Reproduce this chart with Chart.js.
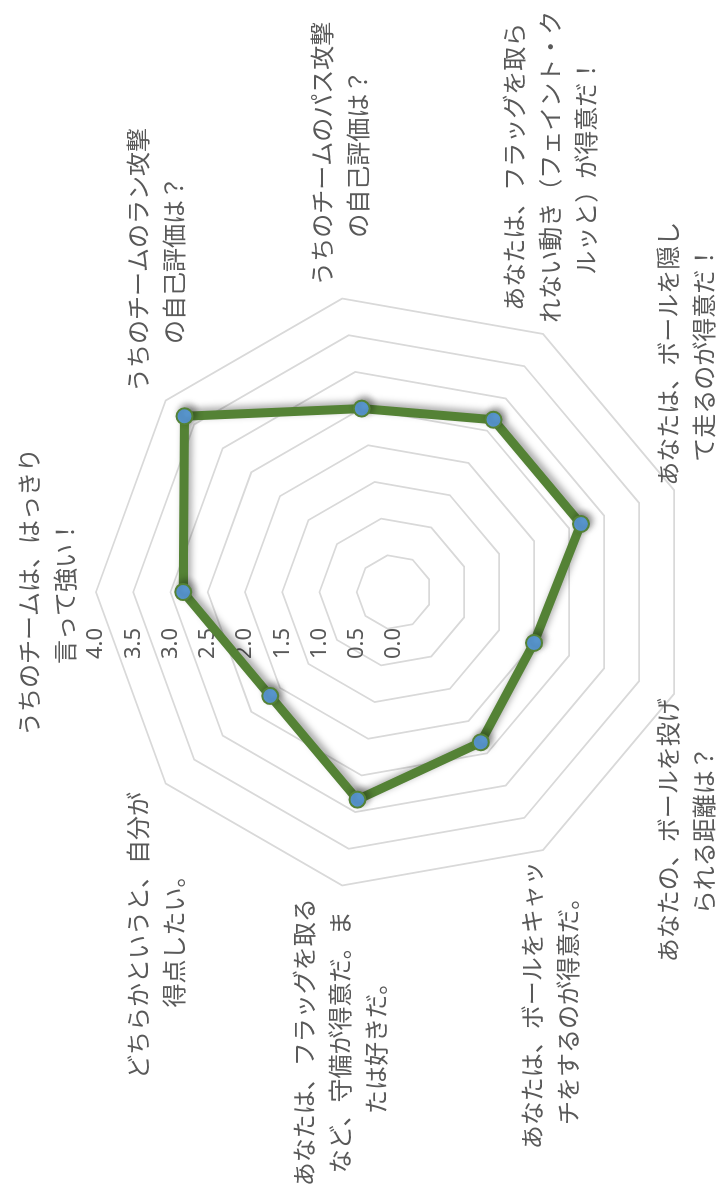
<!DOCTYPE html>
<html>
<head>
<meta charset="utf-8">
<script src="https://cdn.jsdelivr.net/npm/chart.js@4.4.1/dist/chart.umd.min.js"></script>
<style>
  html, body { margin: 0; padding: 0; background: #fff; }
  #wrap { position: relative; width: 717px; height: 1195px; overflow: hidden; }
  /* the chart is drawn landscape and turned a quarter to the left */
  #turn { position: absolute; left: 0; top: 0; width: 1195px; height: 717px;
          transform-origin: 0 0; transform: translate(0, 1195px) rotate(-90deg); }
</style>
</head>
<body>
<div id="wrap"><div id="turn"><canvas id="radarChart" width="1195" height="717"></canvas></div></div>
<script>
const questions = [
    ['うちのチームは、はっきり', '言って強い！'],
    ['うちのチームのラン攻撃', 'の自己評価は？'],
    ['うちのチームのパス攻撃', 'の自己評価は？'],
    ['あなたは、フラッグを取ら', 'れない動き（フェイント・ク', 'ルッと）が得意だ！'],
    ['あなたは、ボールを隠し', 'て走るのが得意だ！'],
    ['あなたの、ボールを投げ', 'られる距離は？'],
    ['あなたは、ボールをキャッ', 'チをするのが得意だ。'],
    ['あなたは、フラッグを取る', 'など、守備が得意だ。ま', 'たは好きだ。'],
    ['どちらかというと、自分が', '得点したい。']
];
const scores = [2.83, 3.67, 2.5, 2.67, 2.67, 2.0, 2.33, 2.83, 2.17];
const scaleMin = 0;
const scaleMax = 4;
const scaleStep = 0.5;

const textColor = '#595959';

// tick labels sit beside the axis, not on it
const sideTicks = {
    id: 'sideTicks',
    beforeDatasetsDraw(chart) {
        const r = chart.scales.r;
        const ctx = chart.ctx;
        ctx.save();
        ctx.font = '22px "Noto Sans"';
        ctx.fillStyle = textColor;
        ctx.textAlign = 'right';
        ctx.textBaseline = 'middle';
        r.ticks.forEach(t => {
            const d = r.getDistanceFromCenterForValue(t.value);
            ctx.fillText(t.value.toFixed(1), r.xCenter - 36, r.yCenter - d);
        });
        ctx.restore();
    }
};

const lineShadow = {
    id: 'lineShadow',
    beforeDatasetsDraw(chart) {
        const ctx = chart.ctx;
        ctx.save();
        ctx.shadowColor = 'rgba(0,0,0,0.35)';
        ctx.shadowBlur = 7;
        ctx.shadowOffsetX = 3;
        ctx.shadowOffsetY = 3;
    },
    afterDatasetsDraw(chart) {
        chart.ctx.restore();
    }
};

// question labels, lines centred, block set beside each spoke
const questionLabels = {
    id: 'questionLabels',
    afterDraw(chart) {
        const r = chart.scales.r;
        const ctx = chart.ctx;
        const lineH = 36;
        const n = chart.data.labels.length;
        ctx.save();
        ctx.font = '24px "Noto Sans CJK JP"';
        ctx.fillStyle = textColor;
        ctx.textAlign = 'center';
        ctx.textBaseline = 'middle';
        chart.data.labels.forEach((lines, i) => {
            const p = r.getPointPosition(i, r.drawingArea + 13);
            const deg = Math.round(i * 360 / n);
            const w = Math.max(...lines.map(s => ctx.measureText(s).width));
            const h = lines.length * lineH;
            let cx = p.x;
            let top = p.y - h / 2;
            if (deg === 0) top = p.y - h;
            else if (deg === 180) top = p.y;
            else if (deg < 180) cx = p.x + w / 2;
            else cx = p.x - w / 2;
            lines.forEach((s, k) => ctx.fillText(s, cx, top + lineH * (k + 0.5)));
        });
        ctx.restore();
    }
};

const ctx = document.getElementById('radarChart').getContext('2d');
new Chart(ctx, {
    type: 'radar',
    data: {
        labels: questions,
        datasets: [{
            label: '自己評価',
            data: scores,
            borderColor: '#548235',
            borderWidth: 9,
            fill: false,
            pointRadius: 8,
            pointBackgroundColor: '#5b9bd5',
            pointBorderColor: '#548235',
            pointBorderWidth: 2
        }]
    },
    options: {
        responsive: false,
        animation: false,
        devicePixelRatio: 1,
        layout: {
            padding: { top: 96, bottom: 25, left: 305, right: 293 }
        },
        plugins: {
            legend: { display: false },
            tooltip: { enabled: false }
        },
        scales: {
            r: {
                min: scaleMin,
                max: scaleMax,
                ticks: { stepSize: scaleStep, display: false },
                pointLabels: { display: false },
                angleLines: { display: false },
                grid: { color: '#d9d9d9', lineWidth: 1.75 }
            }
        }
    },
    plugins: [sideTicks, lineShadow, questionLabels]
});
</script>
</body>
</html>
